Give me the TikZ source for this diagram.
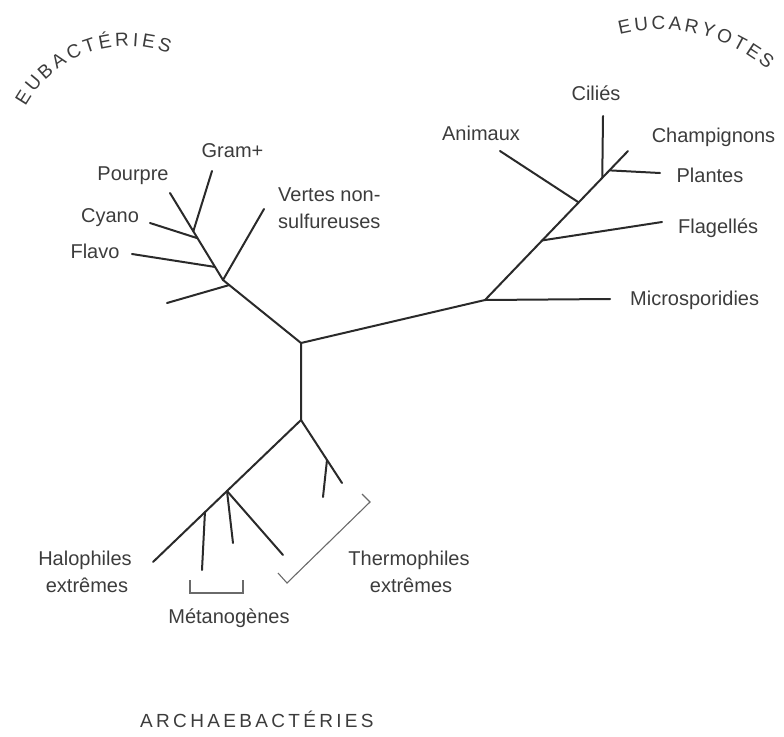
\documentclass[tikz,border=0pt]{standalone}
\usepackage{fontspec}
\setmainfont{Liberation Sans}
\usetikzlibrary{calc}
\definecolor{ink}{HTML}{2A2A2A}
\definecolor{txt}{HTML}{3C3C3C}
\definecolor{brk}{HTML}{6A6A6A}
\begin{document}
\begin{tikzpicture}[x=1pt,y=-1pt,
  branch/.style={draw=ink,line width=2pt,line cap=round},
  bracket/.style={draw=brk,line width=1.1pt},
  lbl/.style={text=txt,font=\fontsize{20}{24}\selectfont,inner sep=0pt,anchor=base},
  lblw/.style={lbl,anchor=base west},
  arcletter/.style={text=txt,font=\fontsize{19}{23}\selectfont,inner sep=0pt,anchor=base},
  group/.style={text=txt,font=\fontsize{19}{23}\selectfont\addfontfeatures{LetterSpace=17.5},inner sep=0pt,anchor=base west}]
\useasboundingbox (0,0) rectangle (784,736);

% ---------- junctions and tips ----------
\coordinate (root) at (301,343);
% Eubacteries
\coordinate (eb) at (223,280);
\coordinate (ebPour) at (170,193);
\coordinate (ebGram) at (212,171);
\coordinate (ebCyano) at (150,223);
\coordinate (ebFlavo) at (132,254);
\coordinate (ebVert) at (264,209);
\coordinate (ebLow) at (167,303);
\coordinate (jLow) at ($(root)!0.92!(eb)$);
\coordinate (jFlavo) at ($(eb)!0.15!(ebPour)$);
\coordinate (jCyano) at ($(eb)!0.48!(ebPour)$);
\coordinate (jGram) at ($(eb)!0.56!(ebPour)$);
% Eucaryotes
\coordinate (eu) at (485,300);
\coordinate (euTop) at (628,151);
\coordinate (euMicro) at (610,299);
\coordinate (euFlag) at (662,222);
\coordinate (euAnim) at (500,151);
\coordinate (euCil) at (603,116);
\coordinate (euPlant) at (660,173);
\coordinate (jFlag) at ($(eu)!0.40!(euTop)$);
\coordinate (jAnim) at ($(eu)!0.655!(euTop)$);
\coordinate (jCil) at ($(eu)!0.82!(euTop)$);
\coordinate (jPlant) at ($(eu)!0.87!(euTop)$);
% Archaebacteries
\coordinate (ar) at (301,420);
\coordinate (arHalo) at (153,562);
\coordinate (arTh) at (342,483);
\coordinate (arThSub) at (323,497);
\coordinate (arM1) at (202,570);
\coordinate (arM2) at (233,543);
\coordinate (arM3) at (283,555);
\coordinate (jMa) at ($(ar)!0.5!(arHalo)$);
\coordinate (jMb) at ($(ar)!0.649!(arHalo)$);
\coordinate (jTh) at ($(ar)!0.634!(arTh)$);

% ---------- branches ----------
\draw[branch] (root) -- (eb) -- (ebPour);
\draw[branch] (jLow) -- (ebLow);
\draw[branch] (eb) -- (ebVert);
\draw[branch] (jFlavo) -- (ebFlavo);
\draw[branch] (jCyano) -- (ebCyano);
\draw[branch] (jGram) -- (ebGram);

\draw[branch] (root) -- (eu) -- (euTop);
\draw[branch] (eu) -- (euMicro);
\draw[branch] (jFlag) -- (euFlag);
\draw[branch] (jAnim) -- (euAnim);
\draw[branch] (jCil) -- (euCil);
\draw[branch] (jPlant) -- (euPlant);

\draw[branch] (root) -- (ar) -- (arHalo);
\draw[branch] (ar) -- (arTh);
\draw[branch] (jTh) -- (arThSub);
\draw[branch] (jMb) -- (arM1);
\draw[branch] (jMa) -- (arM2);
\draw[branch] (jMa) -- (arM3);

% ---------- brackets ----------
\coordinate (bt1) at (278,573);
\coordinate (bt2) at (287,583);
\coordinate (bt3) at (370,502);
\coordinate (bt4) at (362,494);
\draw[bracket] (bt1) -- (bt2) -- (bt3) -- (bt4);
\coordinate (bm1) at (190,580);
\coordinate (bm2) at (190,593);
\coordinate (bm3) at (243,593);
\coordinate (bm4) at (243,580);
\draw[bracket] (bm1) -- (bm2) -- (bm3) -- (bm4);

% ---------- labels ----------
\node[lbl] (lGram) at (232.5,157) {Gram+};
\node[lbl] (lPour) at (133,180) {Pourpre};
\node[lbl] (lCyano) at (110,222) {Cyano};
\node[lbl] (lFlavo) at (95,258) {Flavo};
\node[lblw] (lVert1) at (278,201) {Vertes non-};
\node[lblw] (lVert2) at (278,228) {sulfureuses};

\node[lbl] (lAnim) at (481,140) {Animaux};
\node[lbl] (lCil) at (596,100) {Ciliés};
\node[lbl] (lChamp) at (713.5,142) {Champignons};
\node[lbl] (lPlant) at (710,182) {Plantes};
\node[lblw] (lFlag) at (678,233) {Flagellés};
\node[lblw] (lMicro) at (630,305) {Microsporidies};

\node[lbl] (lHalo1) at (85,565) {Halophiles};
\node[lbl] (lHalo2) at (87,592) {extrêmes};
\node[lbl] (lTh1) at (409,565) {Thermophiles};
\node[lbl] (lTh2) at (411,592) {extrêmes};
\node[lbl] (lMeth) at (229,623) {Métanogènes};

\node[group] (gArch) at (140,727) {ARCHAEBACTÉRIES};

% ---------- arched group names ----------
\coordinate (cEub) at (127.5,162.5);
\foreach \ch/\a [count=\i] in {E/148,U/139.9,B/131.9,A/124.1,C/116.0,T/108.2,É/100.6,R/92.6,I/86.2,E/80.1,S/72.3}
  \node[arcletter,rotate=\a-90] (eubL\i) at ($(cEub)+(\a:116.5pt)$) {\ch};
\coordinate (cEuc) at (660,193.6);
\foreach \ch/\a [count=\i] in {E/102,U/96.3,C/90.5,A/84.9,R/79.2,Y/73.5,O/67.7,T/62.0,E/56.7,S/51.3}
  \node[arcletter,rotate=\a-90] (eucL\i) at ($(cEuc)+(\a:164pt)$) {\ch};
\end{tikzpicture}
\end{document}
